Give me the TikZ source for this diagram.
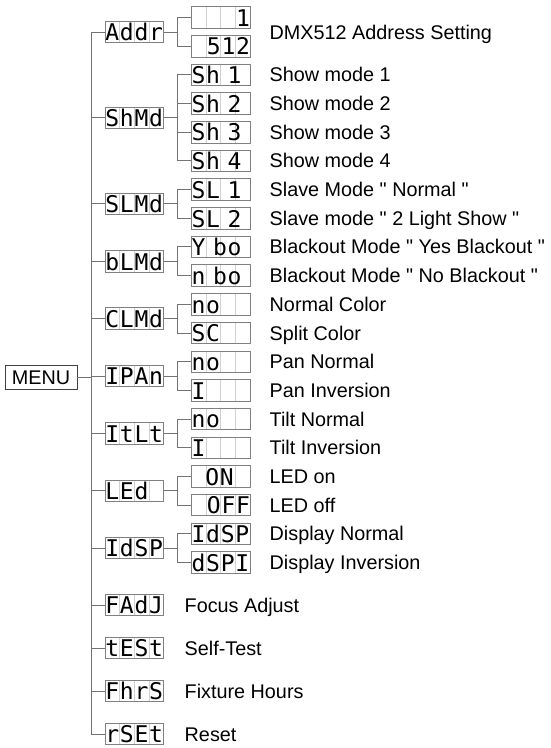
\documentclass[tikz,border=0pt]{standalone}
\usepackage{fontspec}
\setmainfont{Liberation Sans}
\newfontfamily\dispfont[LetterSpace=3.4]{DejaVu Sans Mono}
\usetikzlibrary{calc}
\newcommand{\qq}{\textquotedbl}
\begin{document}
\begin{tikzpicture}[x=1pt,y=-1pt,
  conn/.style={draw=black!55, line width=0.9pt},
  disp/.style={draw=black!50, line width=0.9pt, minimum width=58.5pt, minimum height=21.5pt,
    inner sep=0pt, text width=58.5pt, align=left,
    font=\dispfont\fontsize{23}{23}\selectfont, text height=17.5pt, text depth=0pt,
    path picture={\foreach \k in {1,2,3}{\draw[black!18, line width=0.8pt]
      ($(path picture bounding box.north west)!\k/4!(path picture bounding box.north east)$) --
      ($(path picture bounding box.south west)!\k/4!(path picture bounding box.south east)$);}}},
  menubox/.style={draw=black!75, line width=0.9pt, minimum width=72pt, minimum height=23.5pt,
    inner sep=0pt, font=\fontsize{19.8}{19.8}\selectfont, text height=14pt, text depth=0pt},
  lbl/.style={anchor=west, inner sep=0pt, font=\fontsize{19.8}{19.8}\selectfont, text height=14pt, text depth=0pt},
]
\fill[white] (0,0) rectangle (551,748);
\useasboundingbox (0,0) rectangle (551,748);

\coordinate (tk) at (91,0);
\coordinate (br) at (177,0);

% root
\node[menubox] (menu) at (41,377.5) {MENU};

% level 1
\node[disp] (addr) at (134.5,32.0) {Addr};
\node[disp] (shmd) at (134.5,117.9) {ShMd};
\node[disp] (slmd) at (134.5,203.9) {SLMd};
\node[disp] (blmd) at (134.5,261.3) {bLMd};
\node[disp] (clmd) at (134.5,318.6) {CLMd};
\node[disp] (ipan) at (134.5,376.0) {IPAn};
\node[disp] (itlt) at (134.5,433.4) {ItLt};
\node[disp] (led)  at (134.5,490.7) {LEd};
\node[disp] (idsp) at (134.5,548.1) {IdSP};
\node[disp] (fadj) at (134.5,605.0) {FAdJ};
\node[disp] (test) at (134.5,648.0) {tESt};
\node[disp] (fhrs) at (134.5,691.0) {FhrS};
\node[disp] (rset) at (134.5,734.0) {rSEt};

% level 2
\node[disp,align=right] (s0) at (220.75,17.5) {1};
\node[disp,align=right] (s1) at (220.75,46.2) {512};
\node[disp] (s2)  at (220.75,74.9)  {Sh 1};
\node[disp] (s3)  at (220.75,103.5) {Sh 2};
\node[disp] (s4)  at (220.75,132.2) {Sh 3};
\node[disp] (s5)  at (220.75,160.9) {Sh 4};
\node[disp] (s6)  at (220.75,189.6) {SL 1};
\node[disp] (s7)  at (220.75,218.3) {SL 2};
\node[disp] (s8)  at (220.75,246.9) {Y bo};
\node[disp] (s9)  at (220.75,275.6) {n bo};
\node[disp] (s10) at (220.75,304.3) {no};
\node[disp] (s11) at (220.75,333.0) {SC};
\node[disp] (s12) at (220.75,361.7) {no};
\node[disp] (s13) at (220.75,390.3) {I};
\node[disp] (s14) at (220.75,419.0) {no};
\node[disp] (s15) at (220.75,447.7) {I};
\node[disp] (s16) at (220.75,476.4) {\hphantom{0}ON};
\node[disp,align=right] (s17) at (220.75,505.1) {OFF};
\node[disp] (s18) at (220.75,533.7) {IdSP};
\node[disp] (s19) at (220.75,562.4) {dSPI};

% labels
\node[lbl] (t0)  at (269.5,32.0)  {DMX512 Address Setting};
\node[lbl] (t2)  at (269.5,74.9)  {Show mode 1};
\node[lbl] (t3)  at (269.5,103.5) {Show mode 2};
\node[lbl] (t4)  at (269.5,132.2) {Show mode 3};
\node[lbl] (t5)  at (269.5,160.9) {Show mode 4};
\node[lbl] (t6)  at (269.5,189.6) {Slave Mode \qq{} Normal \qq};
\node[lbl] (t7)  at (269.5,218.3) {Slave mode \qq{} 2 Light Show \qq};
\node[lbl] (t8)  at (269.5,246.9) {Blackout Mode \qq{} Yes Blackout \qq};
\node[lbl] (t9)  at (269.5,275.6) {Blackout Mode \qq{} No Blackout \qq};
\node[lbl] (t10) at (269.5,304.3) {Normal Color};
\node[lbl] (t11) at (269.5,333.0) {Split Color};
\node[lbl] (t12) at (269.5,361.7) {Pan Normal};
\node[lbl] (t13) at (269.5,390.3) {Pan Inversion};
\node[lbl] (t14) at (269.5,419.0) {Tilt Normal};
\node[lbl] (t15) at (269.5,447.7) {Tilt Inversion};
\node[lbl] (t16) at (269.5,476.4) {LED on};
\node[lbl] (t17) at (269.5,505.1) {LED off};
\node[lbl] (t18) at (269.5,533.7) {Display Normal};
\node[lbl] (t19) at (269.5,562.4) {Display Inversion};
\node[lbl] (tf) at (184.5,605.0) {Focus Adjust};
\node[lbl] (tt) at (184.5,648.0) {Self-Test};
\node[lbl] (th) at (184.5,691.0) {Fixture Hours};
\node[lbl] (tr) at (184.5,734.0) {Reset};

% connectors root -> level 1
\foreach \n in {addr,shmd,slmd,blmd,clmd,ipan,itlt,led,idsp,fadj,test,fhrs,rset}
  \draw[conn] (menu.east) -- (menu.east -| tk) |- (\n.west);

% connectors level 1 -> level 2
\foreach \p/\c in {addr/s0,addr/s1,shmd/s2,shmd/s3,shmd/s4,shmd/s5,slmd/s6,slmd/s7,
  blmd/s8,blmd/s9,clmd/s10,clmd/s11,ipan/s12,ipan/s13,itlt/s14,itlt/s15,
  led/s16,led/s17,idsp/s18,idsp/s19}
  \draw[conn] (\p.east) -- (\p.east -| br) |- (\c.west);
\end{tikzpicture}
\end{document}
